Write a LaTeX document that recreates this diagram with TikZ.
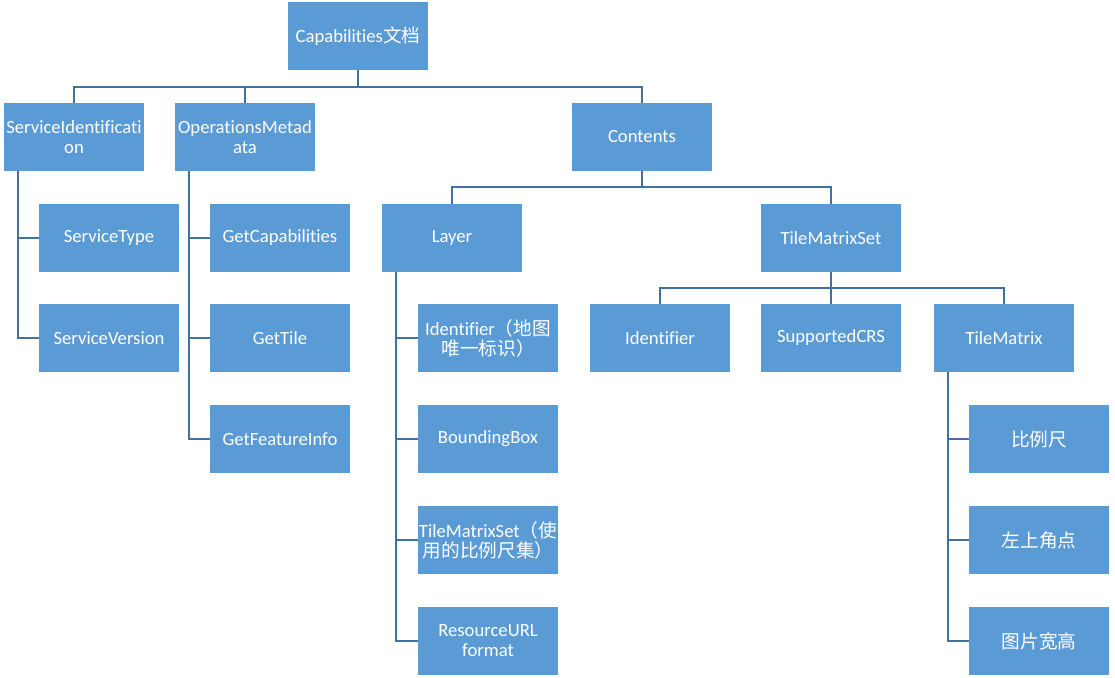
\documentclass[tikz,border=0pt]{standalone}
\usepackage{fontspec}
\setmainfont{Carlito}[Ligatures={NoCommon}]
\newfontfamily\cjk{Noto Sans CJK SC}
\definecolor{boxfill}{HTML}{5B9BD5}
\definecolor{linecol}{HTML}{41719C}
\begin{document}
\begin{tikzpicture}[x=0.75pt,y=-0.75pt,
  box/.style={fill=boxfill,draw=none,text=white,minimum width=105pt,minimum height=51pt,
    inner sep=0pt,align=center,font=\fontsize{14}{15}\selectfont},
  conn/.style={draw=linecol,line width=1.6pt}]
\useasboundingbox (0,0) rectangle (1115,678);
% level 0
\node[box] (cap) at (358,36) {Capabilities{\cjk 文档}};
% level 1
\node[box] (si) at (74,137) {ServiceIdentificati\\on};
\node[box] (om) at (245,137) {OperationsMetad\\ata};
\node[box] (ct) at (642,137) {Contents};
% SI children
\node[box] (st) at (109,238) {ServiceType};
\node[box] (sv) at (109,338) {ServiceVersion};
% OM children
\node[box] (gc) at (280,238) {GetCapabilities};
\node[box] (gt) at (280,338) {GetTile};
\node[box] (gf) at (280,439) {GetFeatureInfo};
% Contents children
\node[box] (ly) at (452,238) {Layer};
\node[box] (tms) at (831,238) {TileMatrixSet};
% Layer children
\node[box] (lid) at (488,338) {Identifier{\cjk （地图}\\{\cjk 唯一标识）}};
\node[box] (bb) at (488,439) {BoundingBox};
\node[box] (ltms) at (488,540) {TileMatrixSet{\cjk （使}\\{\cjk 用的比例尺集）}};
\node[box] (ru) at (488,641) {ResourceURL\\format};
% TMS children
\node[box] (tid) at (660,338) {Identifier};
\node[box] (crs) at (831,338) {SupportedCRS};
\node[box] (tm) at (1004,338) {TileMatrix};
% TileMatrix children
\node[box] (sc) at (1039,439) {\cjk 比例尺};
\node[box] (tl) at (1039,540) {\cjk 左上角点};
\node[box] (wh) at (1039,641) {\cjk 图片宽高};
% connectors: top
\draw[conn] (cap.south) -- ++(0,17) -| (si.north);
\draw[conn] (cap.south) -- ++(0,17) -| (om.north);
\draw[conn] (cap.south) -- ++(0,17) -| (ct.north);
% contents
\draw[conn] (ct.south) -- ++(0,16) -| (ly.north);
\draw[conn] (ct.south) -- ++(0,16) -| (tms.north);
% tms
\draw[conn] (tms.south) -- ++(0,16) -| (tid.north);
\draw[conn] (tms.south) -- ++(0,16) -| (crs.north);
\draw[conn] (tms.south) -- ++(0,16) -| (tm.north);
% side branches
\foreach \c in {st,sv} \draw[conn] ([xshift=10.5pt]si.south west) |- (\c.west);
\foreach \c in {gc,gt,gf} \draw[conn] ([xshift=10.5pt]om.south west) |- (\c.west);
\foreach \c in {lid,bb,ltms,ru} \draw[conn] ([xshift=10.5pt]ly.south west) |- (\c.west);
\foreach \c in {sc,tl,wh} \draw[conn] ([xshift=10.5pt]tm.south west) |- (\c.west);
\end{tikzpicture}
\end{document}
